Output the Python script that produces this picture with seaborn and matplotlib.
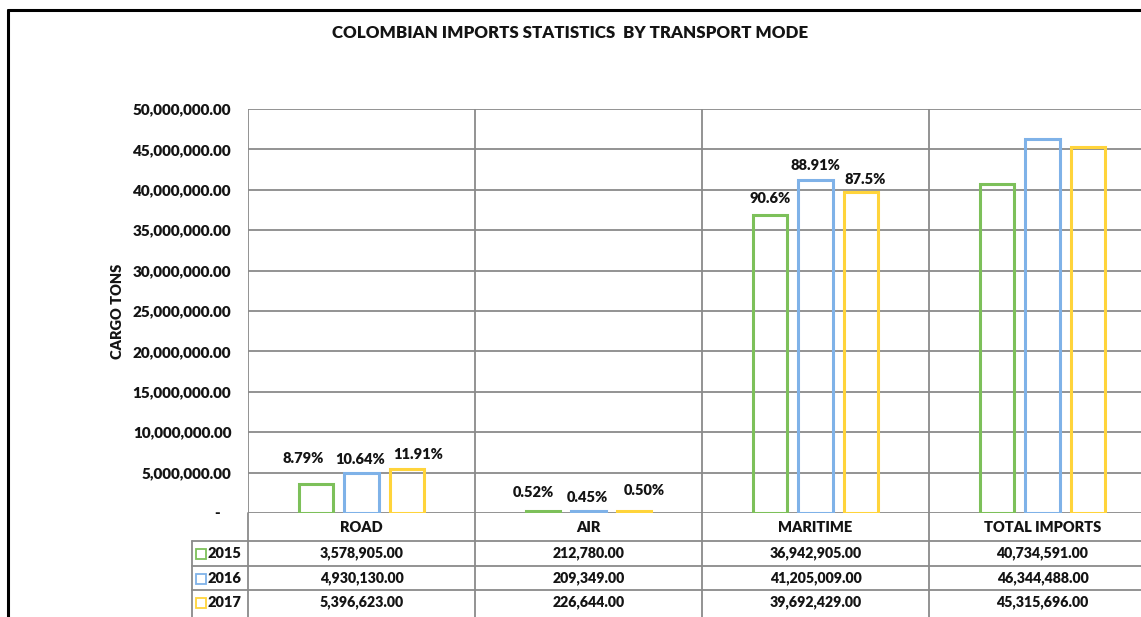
import matplotlib
matplotlib.use("Agg")
import matplotlib.pyplot as plt
from matplotlib.lines import Line2D
from matplotlib.ticker import FuncFormatter, MultipleLocator
import seaborn as sns
import pandas as pd

# ---------------- data ----------------
modes = ["ROAD", "AIR", "MARITIME", "TOTAL IMPORTS"]
years = ["2015", "2016", "2017"]
tons_2015 = [3578905.00, 212780.00, 36942905.00, 40734591.00]
tons_2016 = [4930130.00, 209349.00, 41205009.00, 46344488.00]
tons_2017 = [5396623.00, 226644.00, 39692429.00, 45315696.00]
share_2015 = ["8.79%", "0.52%", "90.6%"]
share_2016 = ["10.64%", "0.45%", "88.91%"]
share_2017 = ["11.91%", "0.50%", "87.5%"]
title = "COLOMBIAN IMPORTS STATISTICS  BY TRANSPORT MODE"
y_label = "CARGO TONS"

# ---------------- style ----------------
colors = ["#7DC05A", "#7FB2E8", "#FFD43B"]
grid_color = "#8a8a8a"
text_color = "#141414"
FW = 800
# label offsets (pixels) relative to each bar top centre: [year][mode]
label_dx = [[-13, -10, 0], [-1, -1, 0], [11, 10, 4]]
label_dy = [[26, 19, 16], [14, 14, 15], [15, 21, 13]]

sns.set_theme(style="white")
plt.rcParams["font.family"] = ["Lato", "DejaVu Sans"]
plt.rcParams["font.weight"] = FW

W, H = 1141, 617
fig = plt.figure(figsize=(W / 100, H / 100), dpi=100)

px_left, px_cat, px_top, px_bottom = 248, 227, 109, 513
ax = fig.add_axes([px_left / W, 1 - px_bottom / H,
                   4 * px_cat / W, (px_bottom - px_top) / H])

df = pd.DataFrame({
    "mode": modes * 3,
    "year": [years[0]] * 4 + [years[1]] * 4 + [years[2]] * 4,
    "tons": tons_2015 + tons_2016 + tons_2017,
})

sns.barplot(data=df, x="mode", y="tons", hue="year", order=modes,
            hue_order=years, palette=colors, fill=False, width=0.6,
            gap=0.25, linewidth=2.2, errorbar=None, legend=False, ax=ax)

ax.set_xlim(-0.5, 3.5)
ax.set_ylim(0, 50_000_000)
ax.yaxis.set_major_locator(MultipleLocator(5_000_000))
ax.yaxis.set_major_formatter(FuncFormatter(
    lambda v, p: f"{v:,.2f}" if v > 0 else "-   "))
ax.set_xticks([])
ax.set_xlabel("")
ax.set_ylabel(y_label, fontsize=10.5, fontweight=FW, color=text_color,
              labelpad=6)
ax.tick_params(axis="y", length=0, pad=12, labelsize=11,
               labelcolor=text_color)
for lbl in ax.get_yticklabels():
    lbl.set_fontweight(FW)
for s in ax.spines.values():
    s.set_visible(False)
ax.yaxis.grid(True, color=grid_color, linewidth=1.3)
ax.set_axisbelow(True)
for xv in [-0.5, 0.5, 1.5, 2.5, 3.5]:
    ax.axvline(xv, color=grid_color, linewidth=1.3, zorder=0)

# percentage labels
shares = [share_2015, share_2016, share_2017]
for j, cont in enumerate(ax.containers):
    for i, bar in enumerate(list(cont)[:3]):
        ax.annotate(shares[j][i],
                    (bar.get_x() + bar.get_width() / 2, bar.get_height()),
                    xytext=(label_dx[j][i], label_dy[j][i]),
                    textcoords="offset pixels", ha="center", va="center",
                    fontsize=10.5, fontweight=FW, color=text_color)

# ---------------- data table ----------------
tab = fig.add_axes([px_left / W, 0, 4 * px_cat / W, (H - px_bottom) / H])
tab.set_xlim(-0.5, 3.5)
tab.set_ylim(H - px_bottom, 0)
tab.axis("off")
leg_left = -0.5 + (192 - px_left) / px_cat
row_lines = [28, 53, 77]
row_centres = [40.5, 65.5, 89.5]
lk = dict(color=grid_color, linewidth=1.3, clip_on=False)
for xv in [-0.5, 0.5, 1.5, 2.5, 3.5]:
    tab.plot([xv, xv], [0, H - px_bottom], **lk)
tab.plot([leg_left, leg_left], [row_lines[0], H - px_bottom], **lk)
for yv in row_lines:
    tab.plot([leg_left, 3.5], [yv, yv], **lk)

for i, m in enumerate(modes):
    tab.text(i, 14, m, ha="center", va="center", fontsize=10.5,
             fontweight=FW, color=text_color)
all_tons = [tons_2015, tons_2016, tons_2017]
for j, yr in enumerate(years):
    yc = row_centres[j]
    tab.plot([-0.5 + (201 - px_left) / px_cat], [yc], marker="s",
             markersize=7, markerfacecolor="none",
             markeredgecolor=colors[j], markeredgewidth=1.3, clip_on=False)
    tab.text(-0.5 + (207 - px_left) / px_cat, yc, yr, ha="left",
             va="center", fontsize=10.5, fontweight=FW, color=text_color)
    for i in range(len(modes)):
        tab.text(i, yc, f"{all_tons[j][i]:,.2f}", ha="center", va="center",
                 fontsize=10.2, fontweight=FW, color=text_color)

# ---------------- title and border ----------------
fig.text(0.5, 1 - 33 / H, title, ha="center", va="center", fontsize=12.2,
         fontweight=FW, color=text_color)
fig.add_artist(Line2D([8 / W, 8 / W], [0, 1 - 10 / H], color="black",
                      linewidth=2.2, transform=fig.transFigure))
fig.add_artist(Line2D([8 / W, 1], [1 - 10 / H, 1 - 10 / H], color="black",
                      linewidth=2.2, transform=fig.transFigure))

fig.savefig("out.png", dpi=100)
